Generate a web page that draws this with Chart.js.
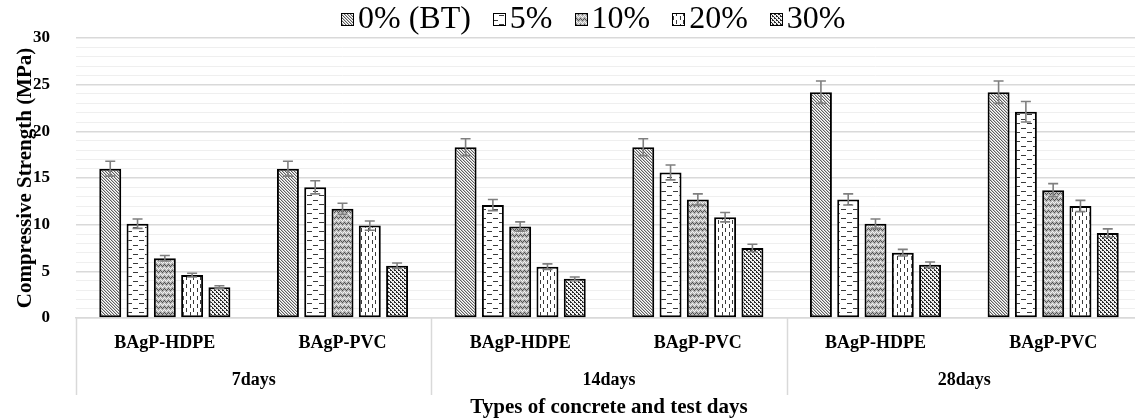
<!DOCTYPE html>
<html>
<head>
<meta charset="utf-8">
<script src="https://cdn.jsdelivr.net/npm/chart.js@4.4.1/dist/chart.umd.min.js"></script>
<style>
  html, body { margin: 0; padding: 0; background: #ffffff; overflow: hidden; }
  #wrap { width: 1150px; height: 418px; position: relative; }
</style>
</head>
<body>
<div id="wrap"><canvas id="chart" width="1150" height="418"></canvas></div>
<script>
// Sub-categories (concrete type) and their test-age groups
const materials = ['BAgP-HDPE', 'BAgP-PVC', 'BAgP-HDPE', 'BAgP-PVC', 'BAgP-HDPE', 'BAgP-PVC'];
const ages = ['7days', '14days', '28days'];
const seriesNames = ['0% (BT)', '5%', '10%', '20%', '30%'];

// Compressive strength (MPa) per replacement level
const strength0 = [16.0, 16.0, 18.3, 18.3, 24.2, 24.2];
const strength5 = [10.1, 14.0, 12.1, 15.6, 12.7, 22.1];
const strength10 = [6.4, 11.7, 9.8, 12.7, 10.1, 13.7];
const strength20 = [4.6, 9.9, 5.5, 10.8, 7.0, 12.0];
const strength30 = [3.3, 5.6, 4.2, 7.5, 5.7, 9.1];

// Error bar half-lengths (MPa)
const error0 = [0.8, 0.8, 0.9, 0.9, 1.2, 1.2];
const error5 = [0.5, 0.7, 0.6, 0.8, 0.6, 1.1];
const error10 = [0.3, 0.6, 0.5, 0.6, 0.5, 0.7];
const error20 = [0.2, 0.5, 0.3, 0.5, 0.35, 0.6];
const error30 = [0.15, 0.3, 0.2, 0.4, 0.3, 0.45];

const yTickMin = 0;
const yTickMax = 30;
const yLabelStep = 5;

const SERIF = '"Liberation Serif", "Times New Roman", serif';

// ---- fill patterns ----
function makePattern(w, h, paint) {
  const c = document.createElement('canvas');
  c.width = w; c.height = h;
  const g = c.getContext('2d');
  paint(g, w, h);
  return document.getElementById('chart').getContext('2d').createPattern(c, 'repeat');
}
const patDiagonal = makePattern(3, 3, (g) => {
  g.fillStyle = '#ffffff'; g.fillRect(0, 0, 3, 3);
  g.fillStyle = '#606060';
  for (let i = 0; i < 3; i++) g.fillRect(i, i, 1, 1);
  g.fillStyle = '#c4c4c4';
  for (let i = 0; i < 3; i++) g.fillRect((i + 1) % 3, i, 1, 1);
});
const patHDash = makePattern(12, 9, (g) => {
  g.fillStyle = '#ffffff'; g.fillRect(0, 0, 12, 9);
  g.fillStyle = '#3a3a3a';
  g.fillRect(1, 2, 5, 1);
  g.fillRect(7, 6, 5, 1);
});
const patZigzag = makePattern(8, 6, (g) => {
  g.fillStyle = '#b8b8b8'; g.fillRect(0, 0, 8, 6);
  g.fillStyle = '#505050';
  [[0,0],[1,1],[2,2],[3,1],[4,0],[5,1],[6,2],[7,1]].forEach(([x, y]) => g.fillRect(x, y, 1, 1));
  g.fillStyle = '#f4f4f4';
  [[0,3],[1,4],[2,5],[3,4],[4,3],[5,4],[6,5],[7,4]].forEach(([x, y]) => g.fillRect(x, y, 1, 1));
});
const patVDash = makePattern(7, 8, (g) => {
  g.fillStyle = '#ffffff'; g.fillRect(0, 0, 7, 8);
  g.fillStyle = '#3a3a3a';
  g.fillRect(1, 0, 1, 4);
  g.fillRect(4, 4, 1, 4);
});
const patConfetti = makePattern(4, 4, (g) => {
  g.fillStyle = '#f0f0f0'; g.fillRect(0, 0, 4, 4);
  g.fillStyle = '#2a2a2a';
  g.fillRect(0, 0, 2, 1);
  g.fillRect(2, 1, 1, 1);
  g.fillRect(2, 2, 2, 1);
  g.fillRect(0, 3, 1, 1);
});

const seriesValues = [strength0, strength5, strength10, strength20, strength30];
const seriesErrors = [error0, error5, error10, error20, error30];
const seriesFills = [patDiagonal, patHDash, patZigzag, patVDash, patConfetti];

const datasets = seriesNames.map((name, i) => ({
  label: name,
  data: seriesValues[i],
  errors: seriesErrors[i],
  backgroundColor: seriesFills[i],
  borderColor: '#000000',
  borderWidth: 2,
  borderSkipped: false,
  barPercentage: 0.805,
  categoryPercentage: 0.768
}));

// Error bars drawn from each bar's value through the y scale
const errorBars = {
  id: 'errorBars',
  afterDatasetsDraw(chart) {
    const ctx = chart.ctx;
    const yScale = chart.scales.y;
    ctx.save();
    ctx.strokeStyle = '#7f7f7f';
    ctx.lineWidth = 1.6;
    chart.data.datasets.forEach((ds, di) => {
      const meta = chart.getDatasetMeta(di);
      meta.data.forEach((bar, j) => {
        const v = ds.data[j], e = ds.errors[j];
        const top = yScale.getPixelForValue(v + e);
        const bot = yScale.getPixelForValue(v - e);
        const x = bar.x;
        ctx.beginPath();
        ctx.moveTo(x, top); ctx.lineTo(x, bot);
        ctx.moveTo(x - 5, top); ctx.lineTo(x + 5, top);
        ctx.moveTo(x - 5, bot); ctx.lineTo(x + 5, bot);
        ctx.stroke();
      });
    });
    ctx.restore();
  }
};

// Second level of the category axis: test-age groups with dividers
const ageGroups = {
  id: 'ageGroups',
  afterDraw(chart) {
    const ctx = chart.ctx;
    const x = chart.scales.x;
    const area = chart.chartArea;
    const per = materials.length / ages.length;
    const step = x.getPixelForValue(1) - x.getPixelForValue(0);
    ctx.save();
    ctx.strokeStyle = '#d9d9d9';
    ctx.lineWidth = 1.5;
    for (let g = 0; g <= ages.length; g++) {
      const bx = Math.round(x.getPixelForValue(g * per) - step / 2) + 0.5;
      ctx.beginPath();
      ctx.moveTo(bx, area.bottom);
      ctx.lineTo(bx, area.bottom + 77);
      ctx.stroke();
    }
    ctx.fillStyle = '#000000';
    ctx.font = 'bold 18px ' + SERIF;
    ctx.textAlign = 'center';
    ctx.textBaseline = 'middle';
    ages.forEach((label, g) => {
      const cx = (x.getPixelForValue(g * per) + x.getPixelForValue(g * per + per - 1)) / 2;
      ctx.fillText(label, cx, area.bottom + 62);
    });
    ctx.restore();
  }
};

// Legend row across the top
const topLegend = {
  id: 'topLegend',
  afterDraw(chart) {
    const ctx = chart.ctx;
    const box = 13, gapIn = 4, gapOut = 22, cy = 19, center = 593;
    ctx.save();
    ctx.font = '32px ' + SERIF;
    ctx.textBaseline = 'middle';
    const items = chart.data.datasets.map(ds => ({ text: ds.label, fill: ds.backgroundColor, w: ctx.measureText(ds.label).width }));
    const total = items.reduce((s, it) => s + box + gapIn + it.w, 0) + gapOut * (items.length - 1);
    let px = Math.round(center - total / 2);
    items.forEach(it => {
      const bx = Math.round(px);
      ctx.fillStyle = it.fill;
      ctx.fillRect(bx, cy - 6, box, box);
      ctx.strokeStyle = '#000000';
      ctx.lineWidth = 1;
      ctx.strokeRect(bx + 0.5, cy - 6 + 0.5, box - 1, box - 1);
      ctx.fillStyle = '#000000';
      ctx.fillText(it.text, px + box + gapIn, cy + 1);
      px += box + gapIn + it.w + gapOut;
    });
    ctx.restore();
  }
};

new Chart(document.getElementById('chart'), {
  type: 'bar',
  data: { labels: materials, datasets },
  options: {
    responsive: false,
    animation: false,
    layout: { padding: { top: 38, right: 8, left: 0, bottom: 0 } },
    plugins: {
      legend: { display: false },
      tooltip: { enabled: false }
    },
    scales: {
      x: {
        grid: { display: false, drawTicks: false },
        border: { display: true, color: '#d9d9d9', width: 1.5 },
        ticks: { color: '#000000', font: { family: SERIF, size: 18, weight: 'bold' }, padding: 15, maxRotation: 0, autoSkip: false },
        title: { display: true, text: 'Types of concrete and test days', color: '#000000', font: { family: SERIF, size: 21, weight: 'bold' }, padding: { top: 0, bottom: -2 } },
        afterFit(scale) { scale.height = 100; }
      },
      y: {
        min: yTickMin,
        max: yTickMax,
        border: { display: false },
        grid: {
          drawTicks: false,
          color: (c) => (c.tick && c.tick.value % yLabelStep === 0) ? '#d9d9d9' : '#efefef',
          lineWidth: (c) => (c.tick && c.tick.value % yLabelStep === 0) ? 1.6 : 1
        },
        ticks: {
          stepSize: 1,
          autoSkip: false,
          padding: 26,
          color: '#000000',
          font: { family: SERIF, size: 17, weight: 'bold' },
          callback: (v) => (v % yLabelStep === 0 ? String(v) : '')
        },
        title: { display: true, text: 'Compressive Strength (MPa)', color: '#000000', font: { family: SERIF, size: 21, weight: 'bold' }, padding: { top: 13, bottom: 0 } },
        afterFit(scale) { scale.width = 76; }
      }
    }
  },
  plugins: [errorBars, ageGroups, topLegend]
});
</script>
</body>
</html>
